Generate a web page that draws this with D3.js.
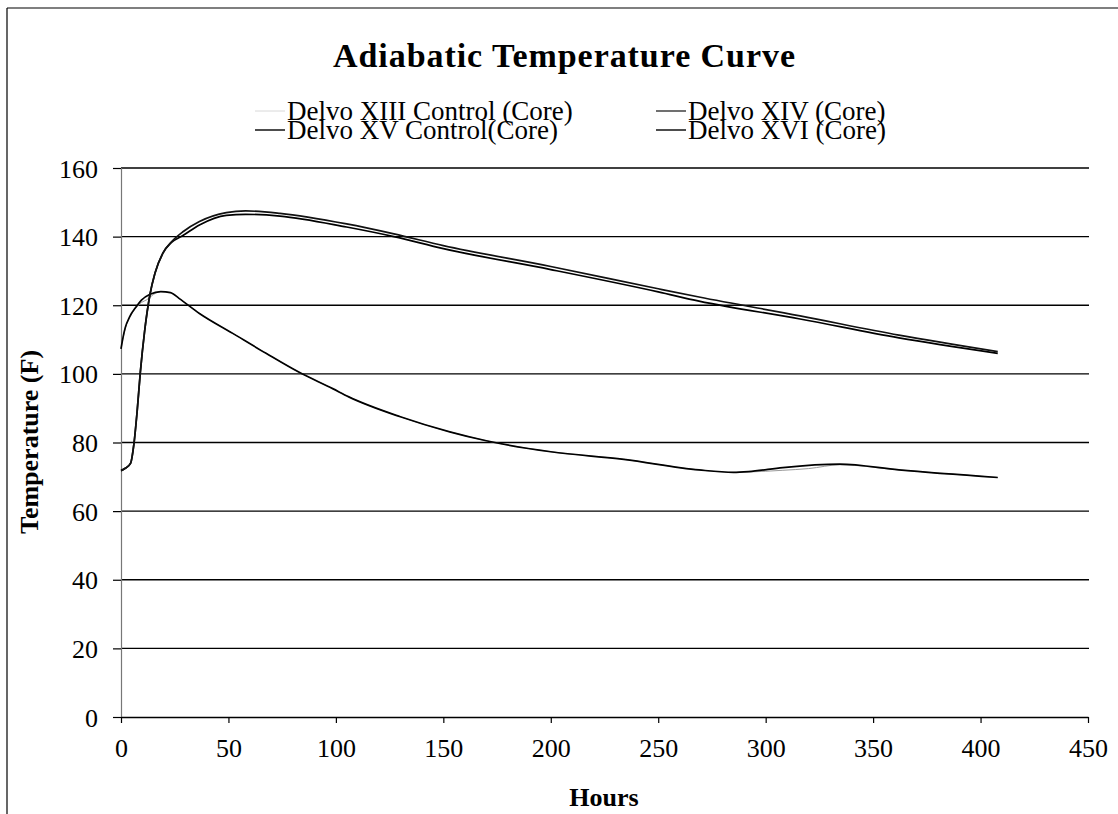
<!DOCTYPE html>
<html>
<head>
<meta charset="utf-8">
<script src="https://cdn.jsdelivr.net/npm/d3@7"></script>
<style>
  html, body { margin: 0; padding: 0; background: #fff; }
  svg { display: block; }
  text { font-family: "Liberation Serif", "Times New Roman", serif; fill: #000; }
</style>
</head>
<body>
<svg id="chart" width="1118" height="814"></svg>
<script>
// Adiabatic temperature rise, core readings (hours vs. °F)
const xiiiHours = [0, 1, 2, 4, 7, 9.5, 12, 15, 18.5, 23, 27, 36.5, 52, 67.5, 82.5, 98.5, 106, 130, 153, 170, 200, 234, 269, 285, 292, 308, 320, 334.5, 362, 408];
const xiiiTemp  = [107.3, 110.6, 113.3, 116.4, 119.3, 120.8, 121.6, 123.1, 124, 123.7, 122, 117.6, 111.8, 106, 100.6, 95.7, 93.3, 87.5, 83.1, 80.5, 77.3, 75.1, 72, 71.3, 71.4, 71.9, 72.4, 73.5, 72, 69.8];

const xvHours = [0, 1, 2, 4, 7, 9.5, 13.5, 18.5, 23, 27, 36.5, 52, 67.5, 82.5, 98.5, 106, 130, 153, 170, 200, 234, 269, 285, 292, 308, 334.5, 362, 408];
const xvTemp  = [107.3, 110.8, 113.5, 116.6, 119.5, 121.5, 123.2, 124, 123.7, 122, 117.6, 111.8, 106, 100.6, 95.7, 93.3, 87.5, 83.1, 80.5, 77.3, 75.1, 72, 71.3, 71.5, 72.7, 73.7, 72, 69.8];

const xivHours = [0, 2, 4.5, 6, 7.5, 9, 11, 13.5, 15.8, 19.5, 23.5, 29, 36.5, 49, 58, 74, 105, 127, 150, 200, 250, 269, 316, 362, 408];
const xivTemp  = [71.8, 72.5, 74, 79.5, 89, 100.5, 112.5, 123.2, 129.3, 135.2, 138.5, 141.5, 144.4, 147, 147.5, 146.8, 143.7, 140.8, 137.4, 131.3, 124.8, 122.4, 116.9, 111.3, 106.5];

const xviHours = [0, 2, 4.5, 6, 7.5, 9, 11, 13.5, 15.8, 19.5, 23.5, 29, 36.5, 49, 58, 74, 105, 127, 150, 200, 250, 269, 316, 362, 408];
const xviTemp  = [71.8, 72.5, 74, 79.5, 89, 100.5, 112.5, 123.2, 129.3, 135.2, 138.3, 140.4, 143.4, 146.2, 146.5, 146, 142.8, 140, 136.5, 130.4, 123.9, 121.2, 116, 110.5, 106];

const seriesNames = ["Delvo XIII Control (Core)", "Delvo XIV (Core)", "Delvo XV Control(Core)", "Delvo XVI (Core)"];
const xTicks = [0, 50, 100, 150, 200, 250, 300, 350, 400, 450];
const yTicks = [0, 20, 40, 60, 80, 100, 120, 140, 160];

const svg = d3.select("#chart");

// page frame (top and left rules)
svg.append("line").attr("x1", 7).attr("y1", 8).attr("x2", 1118).attr("y2", 8)
  .attr("stroke", "#000").attr("stroke-width", 1.2);
svg.append("line").attr("x1", 7).attr("y1", 8).attr("x2", 7).attr("y2", 814)
  .attr("stroke", "#000").attr("stroke-width", 1.2);

const plot = { left: 121, right: 1088, top: 168, bottom: 717 };

const x = d3.scaleLinear().domain([0, 450]).range([plot.left, plot.right]);
const y = d3.scaleLinear().domain([0, 160]).range([plot.bottom, plot.top]);

// horizontal gridlines
svg.append("g").selectAll("line").data(yTicks.filter(d => d > 0)).join("line")
  .attr("x1", plot.left).attr("x2", plot.right + 1)
  .attr("y1", d => y(d)).attr("y2", d => y(d))
  .attr("stroke", "#000").attr("stroke-width", 1.4);

// y axis
const yAxis = svg.append("g").attr("transform", `translate(${plot.left},0)`)
  .call(d3.axisLeft(y).tickValues(yTicks).tickSize(8).tickPadding(15).tickFormat(d3.format("d")));
yAxis.select(".domain").attr("stroke", "#777").attr("stroke-width", 1.2);
yAxis.selectAll(".tick line").attr("stroke", "#000").attr("stroke-width", 1.2);
yAxis.selectAll("text").style("font-size", "26px").style("font-family", "Liberation Serif, serif").attr("dy", "0.35em");

// x axis
const xAxis = svg.append("g").attr("transform", `translate(0,${plot.bottom})`)
  .call(d3.axisBottom(x).tickValues(xTicks).tickSize(6).tickSizeOuter(0).tickPadding(16).tickFormat(d3.format("d")));
xAxis.select(".domain").attr("stroke", "#000").attr("stroke-width", 1.4);
xAxis.selectAll(".tick line").attr("stroke", "#000").attr("stroke-width", 1.2);
xAxis.selectAll("text").style("font-size", "26px").style("font-family", "Liberation Serif, serif");

// curves
const line = d3.line().x(d => x(d[0])).y(d => y(d[1])).curve(d3.curveMonotoneX);
const zip = (h, t) => h.map((v, i) => [v, t[i]]);

const series = [
  { name: seriesNames[0], pts: zip(xiiiHours, xiiiTemp), color: "#9a9a9a", width: 1.0 },
  { name: seriesNames[2], pts: zip(xvHours, xvTemp), color: "#000", width: 1.7 },
  { name: seriesNames[3], pts: zip(xviHours, xviTemp), color: "#000", width: 1.7 },
  { name: seriesNames[1], pts: zip(xivHours, xivTemp), color: "#111", width: 1.7 }
];

svg.append("g").selectAll("path").data(series).join("path")
  .attr("d", d => line(d.pts))
  .attr("fill", "none")
  .attr("stroke", d => d.color)
  .attr("stroke-width", d => d.width);

// title
svg.append("text").attr("x", 333).attr("y", 67)
  .attr("textLength", 462).attr("lengthAdjust", "spacing")
  .style("font-size", "34px").style("font-weight", "bold")
  .text("Adiabatic Temperature Curve");

// legend
const legendItems = [
  { name: seriesNames[0], color: "#d8d8d8", width: 1.0, lx: 255, ly: 111 },
  { name: seriesNames[1], color: "#222", width: 1.3, lx: 656, ly: 111 },
  { name: seriesNames[2], color: "#000", width: 1.4, lx: 255, ly: 130 },
  { name: seriesNames[3], color: "#000", width: 1.4, lx: 656, ly: 130 }
];
const lg = svg.append("g").selectAll("g").data(legendItems).join("g");
lg.append("line")
  .attr("x1", d => d.lx).attr("x2", d => d.lx + 30)
  .attr("y1", d => d.ly).attr("y2", d => d.ly)
  .attr("stroke", d => d.color).attr("stroke-width", d => d.width);
lg.append("text")
  .attr("x", d => d.lx + 32).attr("y", d => d.ly + 9)
  .style("font-size", "27px")
  .text(d => d.name);

// axis titles
svg.append("text").attr("x", 604).attr("y", 806).attr("text-anchor", "middle")
  .style("font-size", "26px").style("font-weight", "bold").text("Hours");
svg.append("text")
  .attr("transform", "translate(38,442) rotate(-90)")
  .attr("text-anchor", "middle")
  .style("font-size", "26px").style("font-weight", "bold")
  .text("Temperature (F)");
</script>
</body>
</html>
